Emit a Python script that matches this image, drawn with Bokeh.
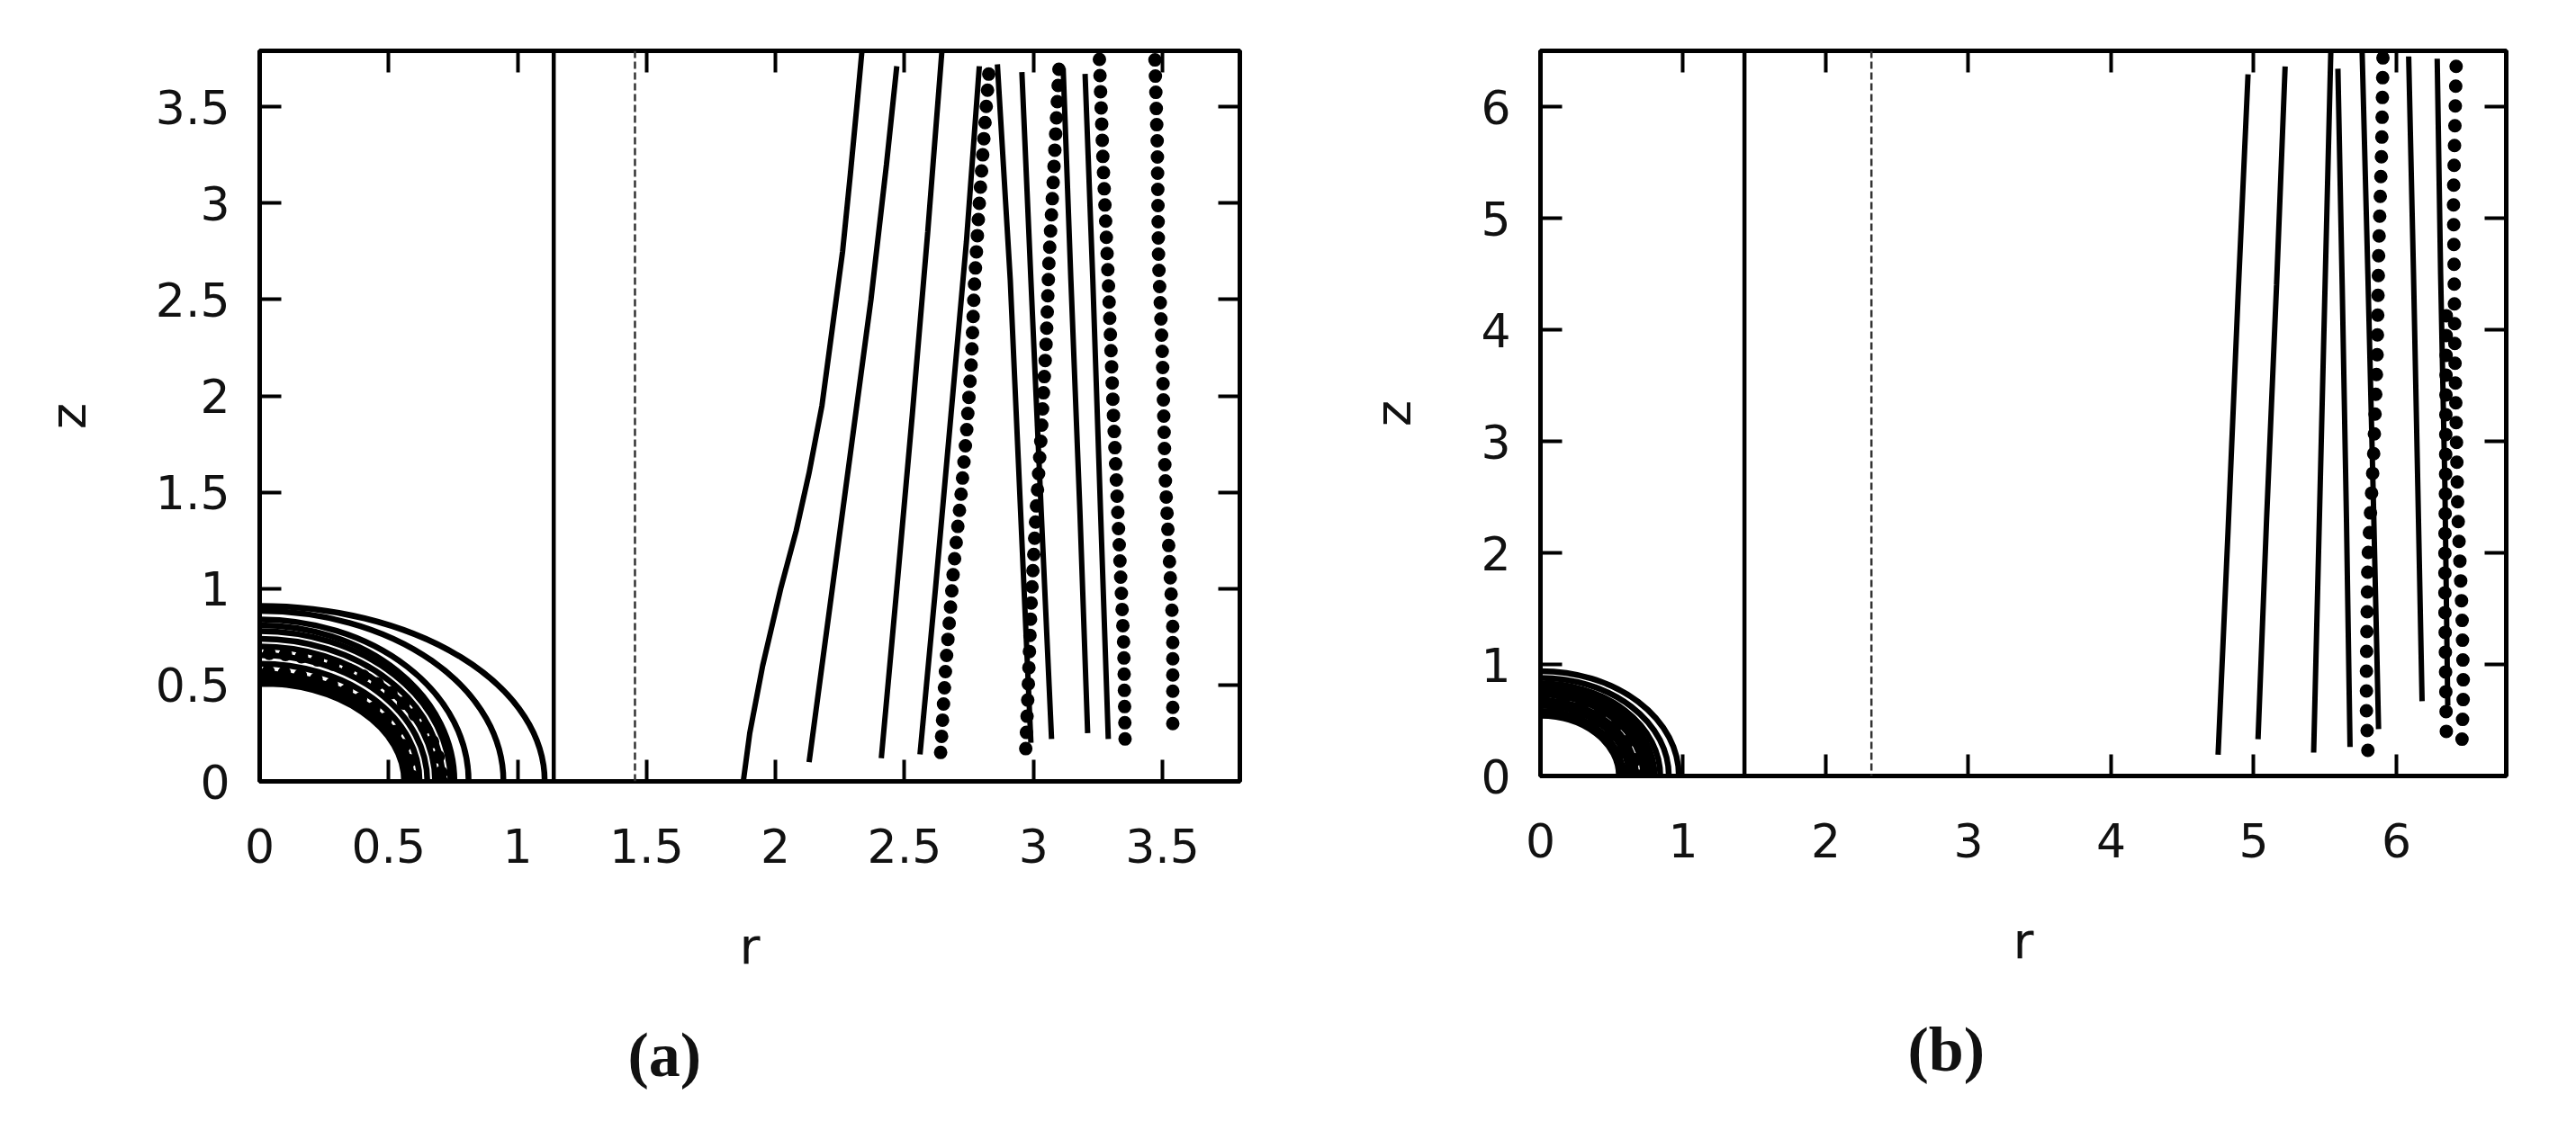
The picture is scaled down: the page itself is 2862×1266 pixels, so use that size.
from bokeh.plotting import figure
from bokeh.layouts import row
from bokeh.models import Span, LinearAxis, FixedTicker, Title, Range1d
from bokeh.embed import file_html
from bokeh.resources import INLINE

# ---------------- panel (a) data ----------------
a_xmax = 3.80
a_ymax = 3.79
a_ticks = [0, 0.5, 1, 1.5, 2, 2.5, 3, 3.5]
a_tick_labels = ["0", "0.5", "1", "1.5", "2", "2.5", "3", "3.5"]
a_wall_r = 1.14
a_dash_r = 1.455

# quarter-ellipse arcs: end radius on r axis, start height on z axis
a_arc_r = [1.105, 0.945, 0.81, 0.755, 0.74, 0.71, 0.68, 0.65, 0.62, 0.59, 0.575, 0.56]
a_arc_z = [0.91, 0.885, 0.84, 0.81, 0.78, 0.74, 0.70, 0.655, 0.61, 0.56, 0.535, 0.51]
a_darc_r = [0.705, 0.593]
a_darc_z = [0.665, 0.57]

a_c1_r = [1.875, 1.90, 1.95, 2.02, 2.08, 2.13, 2.18, 2.22, 2.26, 2.29, 2.315, 2.335]
a_c1_z = [0.0, 0.25, 0.6, 1.0, 1.3, 1.6, 1.95, 2.35, 2.75, 3.15, 3.5, 3.79]
a_c2_r = [2.13, 2.18, 2.24, 2.30, 2.37, 2.43, 2.47]
a_c2_z = [0.10, 0.6, 1.2, 1.8, 2.5, 3.2, 3.71]
a_c3_r = [2.41, 2.47, 2.53, 2.59, 2.645]
a_c3_z = [0.12, 1.0, 1.9, 2.85, 3.79]
a_c4_r = [2.56, 2.62, 2.68, 2.74, 2.79]
a_c4_z = [0.14, 1.0, 1.9, 2.8, 3.71]
a_e1_r = [2.99, 2.95, 2.91, 2.86]
a_e1_z = [0.20, 1.4, 2.6, 3.72]
a_e2_r = [3.07, 3.03, 2.99, 2.955]
a_e2_z = [0.22, 1.4, 2.6, 3.68]
a_e3_r = [3.21, 3.18, 3.145, 3.115]
a_e3_z = [0.25, 1.4, 2.6, 3.70]
a_e4_r = [3.29, 3.26, 3.23, 3.20]
a_e4_z = [0.22, 1.4, 2.6, 3.67]

a_d1_r = [2.64, 2.66, 2.69, 2.72, 2.74, 2.76, 2.77, 2.79, 2.81, 2.83]
a_d1_z = [0.15, 0.6, 1.1, 1.5, 1.8, 2.2, 2.55, 3.0, 3.38, 3.73]
a_d2_r = [2.97, 2.98, 2.99, 3.01, 3.03, 3.05, 3.06, 3.08, 3.10]
a_d2_z = [0.17, 0.5, 0.9, 1.4, 1.8, 2.3, 2.7, 3.2, 3.73]
a_d3_r = [3.355, 3.35, 3.33, 3.31, 3.29, 3.27, 3.255]
a_d3_z = [0.22, 0.7, 1.3, 1.9, 2.6, 3.2, 3.77]
a_d4_r = [3.54, 3.54, 3.525, 3.51, 3.50, 3.485, 3.48, 3.47]
a_d4_z = [0.30, 0.8, 1.2, 1.6, 2.2, 2.7, 3.3, 3.79]

# ---------------- panel (b) data ----------------
b_xmax = 6.77
b_ymax = 6.5
b_ticks = [0, 1, 2, 3, 4, 5, 6]
b_tick_labels = ["0", "1", "2", "3", "4", "5", "6"]
b_wall_r = 1.43
b_dash_r = 2.32

b_arc_r = [0.97, 0.90, 0.84, 0.80, 0.78, 0.75, 0.72, 0.67, 0.64, 0.62, 0.58, 0.55]
b_arc_z = [0.94, 0.88, 0.83, 0.80, 0.78, 0.755, 0.73, 0.68, 0.655, 0.63, 0.58, 0.54]
b_darc_r = [0.68, 0.60]
b_darc_z = [0.70, 0.60]

b_l1_r = [4.75, 4.82, 4.89, 4.96]
b_l1_z = [0.19, 2.2, 4.3, 6.29]
b_l2_r = [5.03, 5.09, 5.16, 5.22]
b_l2_z = [0.33, 2.3, 4.4, 6.36]
b_l3_r = [5.42, 5.46, 5.50, 5.54]
b_l3_z = [0.21, 2.3, 4.4, 6.48]
b_l4_r = [5.675, 5.65, 5.62, 5.59]
b_l4_z = [0.26, 2.3, 4.4, 6.34]
b_l5_r = [5.875, 5.84, 5.80, 5.76]
b_l5_z = [0.42, 2.4, 4.5, 6.48]
b_l6_r = [6.18, 6.15, 6.12, 6.086]
b_l6_z = [0.67, 2.6, 4.5, 6.45]
b_l7_r = [6.36, 6.34, 6.31, 6.286]
b_l7_z = [0.63, 2.6, 4.5, 6.43]

b_d1_r = [5.80, 5.79, 5.79, 5.80, 5.84, 5.865, 5.876, 5.897, 5.907]
b_d1_z = [0.23, 0.58, 1.0, 1.93, 2.86, 3.78, 4.71, 5.64, 6.55]
b_d2_r = [6.46, 6.47, 6.46, 6.43, 6.41, 6.40, 6.42]
b_d2_z = [0.33, 0.77, 1.46, 2.39, 3.78, 5.18, 6.45]
b_d3_r = [6.35, 6.345, 6.34, 6.34, 6.345, 6.35]
b_d3_z = [0.40, 0.9, 1.5, 2.1, 2.7, 4.2]

INK = "#111111"
TICK_FONT = "DejaVu Sans"


def panel(xmax, ymax, ticks_x, labels_x, ticks_y, labels_y, fw, fh, bl, br, bt, bb,
          arcs_r, arcs_z, darcs_r, darcs_z, solid, dotted, wall_r, dash_r,
          caption, cap_offset, dot_gap):
    p = figure(frame_width=fw, frame_height=fh, min_border_left=bl, min_border_right=br,
               min_border_top=bt, min_border_bottom=bb, output_backend="svg",
               toolbar_location=None, x_range=Range1d(0, xmax), y_range=Range1d(0, ymax))
    p.title.visible = False
    p.grid.visible = False
    p.outline_line_color = "black"
    p.outline_line_width = 5
    p.background_fill_color = "white"
    p.border_fill_color = "white"

    ov_x = {t: l for t, l in zip(ticks_x, labels_x)}
    ov_y = {t: l for t, l in zip(ticks_y, labels_y)}

    for ax, tk, ov in ((p.xaxis[0], ticks_x, ov_x), (p.yaxis[0], ticks_y, ov_y)):
        ax.ticker = FixedTicker(ticks=tk)
        ax.major_label_overrides = ov
        ax.minor_tick_line_color = None
        ax.axis_line_color = None
        ax.major_tick_in = 24
        ax.major_tick_out = 0
        ax.major_tick_line_width = 4
        ax.major_tick_line_color = "black"
        ax.major_label_text_font = TICK_FONT
        ax.major_label_text_font_size = "52px"
        ax.major_label_text_color = INK
        ax.axis_label_text_font = TICK_FONT
        ax.axis_label_text_font_size = "56px"
        ax.axis_label_text_font_style = "normal"
        ax.axis_label_text_color = INK
    p.xaxis.axis_label = "r"
    p.yaxis.axis_label = "z"
    p.xaxis.major_label_standoff = 52
    p.yaxis.major_label_standoff = 33
    p.xaxis.axis_label_standoff = 57
    p.yaxis.axis_label_standoff = 62

    # mirrored inward ticks on the top and right edges (no labels)
    for loc, tk in (("right", ticks_y), ("above", ticks_x)):
        ax = LinearAxis(ticker=FixedTicker(ticks=tk), axis_line_color=None,
                        minor_tick_line_color=None, major_tick_in=24, major_tick_out=0,
                        major_tick_line_width=4, major_tick_line_color="black",
                        major_label_text_color=None, major_label_text_font_size="8px",
                        major_label_standoff=0)
        p.add_layout(ax, loc)

    # quarter-elliptic curves around the origin
    p.ellipse(x=[0] * len(arcs_r), y=[0] * len(arcs_r),
              width=[2 * v for v in arcs_r], height=[2 * v for v in arcs_z],
              fill_color=None, line_color="black", line_width=6.5)
    p.ellipse(x=[0] * len(darcs_r), y=[0] * len(darcs_r),
              width=[2 * v for v in darcs_r], height=[2 * v for v in darcs_z],
              fill_color=None, line_color="black", line_width=15,
              line_dash="0 " + str(dot_gap), line_cap="round")

    # vertical wall and dashed line
    p.add_layout(Span(location=wall_r, dimension="height", line_color="black", line_width=4.5))
    p.add_layout(Span(location=dash_r, dimension="height", line_color="#333333",
                      line_width=2.5, line_dash="8 4"))

    for rr, zz in solid:
        p.line(rr, zz, line_color="black", line_width=6)
    for rr, zz in dotted:
        p.line(rr, zz, line_color="black", line_width=15,
               line_dash="0 " + str(dot_gap), line_cap="round")

    cap = Title(text=caption, align="left", text_font="Liberation Serif",
                text_font_size="70px", text_font_style="bold", text_color="#111111",
                standoff=91, offset=cap_offset)
    p.add_layout(cap, "below")
    return p


pa = panel(a_xmax, a_ymax, a_ticks, a_tick_labels, a_ticks, a_tick_labels,
           1089, 812, 288, 46, 46, 390,
           a_arc_r, a_arc_z, a_darc_r, a_darc_z,
           [(a_c1_r, a_c1_z), (a_c2_r, a_c2_z), (a_c3_r, a_c3_z), (a_c4_r, a_c4_z),
            (a_e1_r, a_e1_z), (a_e2_r, a_e2_z), (a_e3_r, a_e3_z), (a_e4_r, a_e4_z)],
           [(a_d1_r, a_d1_z), (a_d2_r, a_d2_z), (a_d3_r, a_d3_z), (a_d4_r, a_d4_z)],
           a_wall_r, a_dash_r, "(a)", 409, 18)

pb = panel(b_xmax, b_ymax, b_ticks, b_tick_labels, b_ticks, b_tick_labels,
           1073, 806, 288, 62, 56, 386,
           b_arc_r, b_arc_z, b_darc_r, b_darc_z,
           [(b_l1_r, b_l1_z), (b_l2_r, b_l2_z), (b_l3_r, b_l3_z), (b_l4_r, b_l4_z),
            (b_l5_r, b_l5_z), (b_l6_r, b_l6_z), (b_l7_r, b_l7_z)],
           [(b_d1_r, b_d1_z), (b_d2_r, b_d2_z), (b_d3_r, b_d3_z)],
           b_wall_r, b_dash_r, "(b)", 408, 22)

layout = row(pa, pb)
open("out.html", "w").write(file_html(layout, INLINE))
